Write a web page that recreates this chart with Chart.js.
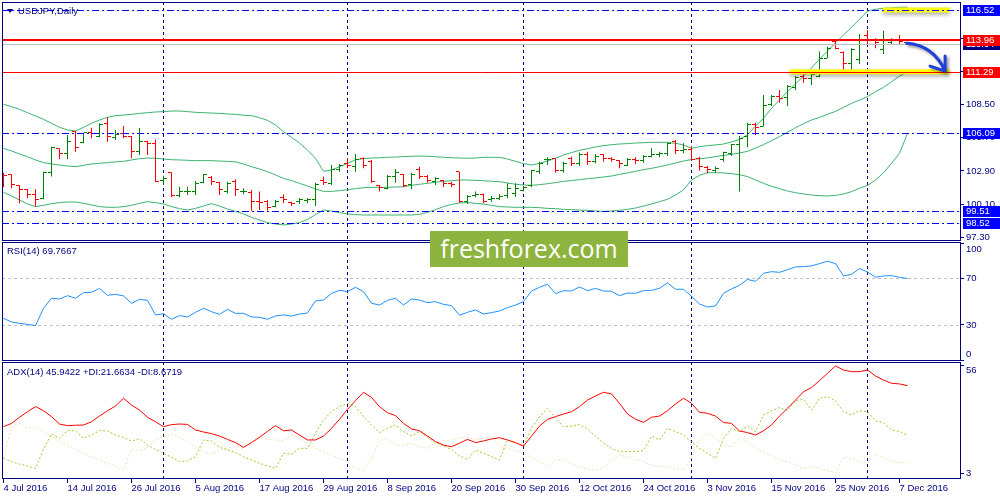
<!DOCTYPE html>
<html>
<head>
<meta charset="utf-8">
<script src="https://cdn.jsdelivr.net/npm/chart.js@4.4.1/dist/chart.umd.min.js"></script>
<style>
  body { margin: 0; background: #fff; }
  #wrap { position: relative; width: 1000px; height: 500px; overflow: hidden; background: #fff; }
  #wrap canvas { position: absolute; left: 0; top: 0; }
  .lbl { position: absolute; font: 9.5px "Liberation Sans", Arial, sans-serif; color: #000080; white-space: nowrap; line-height: 11px; }
  .tri { position: absolute; left: 7px; top: 9px; width: 0; height: 0;
         border-left: 3px solid transparent; border-right: 3px solid transparent; border-top: 4px solid #000080; }
  #wm { position: absolute; left: 430px; top: 231px; width: 198px; height: 36px; background: #8db43e;
        color: #fff; font: 25px "Open Sans", sans-serif; text-align: center; line-height: 35px; }
</style>
</head>
<body>
<div id="wrap">
  <canvas id="cMain" width="1000" height="500"></canvas>
  <canvas id="cRsi" width="1000" height="500"></canvas>
  <canvas id="cAdx" width="1000" height="500"></canvas>
  <span class="tri"></span>
  <div class="lbl" id="lMain" style="left:18px;top:5px"></div>
  <div class="lbl" id="lRsi" style="left:7px;top:245px"></div>
  <div class="lbl" id="lAdx" style="left:7px;top:366px"></div>
  <div id="wm">freshforex.com</div>
</div>
<script>
/* ── Data (USDJPY daily, 4 Jul – 8 Dec 2016) ───────── */

const symbol = 'USDJPY,Daily';

const dateIdx    = [0, 8, 16, 24, 32, 40, 48, 56, 64, 72, 80, 88, 96, 104, 112];
const dateLabels = ['4 Jul 2016', '14 Jul 2016', '26 Jul 2016', '5 Aug 2016', '17 Aug 2016', '29 Aug 2016',
                    '8 Sep 2016', '20 Sep 2016', '30 Sep 2016', '12 Oct 2016', '24 Oct 2016', '3 Nov 2016',
                    '15 Nov 2016', '25 Nov 2016', '7 Dec 2016'];
const monthStarts = [20, 43, 65, 86, 108];

const opens = [
  102.70, 102.56, 101.65, 101.34, 100.92, 100.58, 102.78, 104.76, 104.39, 106.22,
  105.29, 106.14, 105.80, 106.93, 105.74, 106.08, 105.80, 104.53, 105.38, 105.24,
  102.13, 102.75, 100.86, 101.15, 101.20, 101.91, 102.36, 101.91, 101.15, 101.99,
  101.15, 101.06, 100.30, 100.30, 99.88, 100.67, 100.21, 100.30, 100.38, 100.44,
  102.13, 101.85, 102.98, 103.54, 103.26, 103.97, 103.74, 101.65, 101.43, 102.42,
  102.64, 101.71, 103.06, 102.42, 101.99, 102.08, 101.85, 102.84, 100.30, 100.78,
  100.92, 100.44, 100.58, 100.78, 101.00, 101.23, 101.63, 102.84, 103.83, 103.97,
  102.92, 103.97, 103.54, 104.25, 103.68, 104.33, 103.97, 103.77, 103.40, 103.88,
  103.77, 104.16, 104.25, 104.39, 105.38, 104.62, 104.73, 103.97, 103.20, 102.92,
  103.88, 104.39, 105.10, 105.80, 106.79, 106.65, 108.48, 109.19, 109.10, 109.97,
  110.93, 110.74, 110.93, 112.43, 113.84, 112.91, 111.95, 112.35, 114.40, 114.04,
  113.19, 113.75, 114.04, 113.75
];
const highs = [
  102.75, 102.61, 101.71, 101.37, 101.34, 102.84, 104.95, 104.81, 105.94, 106.28,
  106.14, 106.56, 106.93, 107.44, 106.37, 106.70, 105.86, 106.53, 105.46, 105.57,
  102.50, 102.78, 101.57, 101.57, 102.05, 102.64, 102.47, 101.99, 101.99, 102.19,
  101.43, 101.29, 101.15, 100.44, 100.44, 100.92, 100.30, 100.58, 100.58, 101.90,
  102.42, 103.40, 103.49, 103.97, 104.33, 104.05, 103.83, 101.71, 102.56, 103.06,
  102.64, 102.75, 103.26, 102.56, 102.36, 102.13, 101.99, 102.84, 100.86, 101.15,
  101.00, 100.78, 100.92, 101.85, 101.85, 101.63, 102.98, 103.68, 104.05, 103.97,
  103.68, 104.11, 104.45, 104.53, 104.33, 104.33, 104.05, 103.83, 103.97, 104.05,
  104.25, 104.81, 104.53, 105.29, 105.52, 105.24, 105.01, 104.11, 103.33, 103.28,
  104.53, 105.18, 105.86, 106.98, 106.98, 109.33, 109.33, 109.75, 110.17, 110.93,
  111.22, 111.39, 113.00, 113.42, 114.04, 113.00, 113.28, 114.49, 114.83, 114.12,
  114.77, 114.12, 114.40, 113.84
];
const lows = [
  101.51, 101.43, 100.16, 100.58, 99.88, 100.50, 102.42, 103.88, 103.88, 104.53,
  105.24, 105.66, 105.74, 105.38, 105.52, 105.66, 103.97, 104.25, 104.25, 101.99,
  101.71, 100.67, 100.67, 100.86, 100.86, 101.85, 101.71, 100.86, 101.00, 100.78,
  100.92, 99.54, 99.59, 99.54, 99.82, 100.16, 99.93, 100.10, 100.16, 99.93,
  101.71, 101.71, 102.84, 103.12, 102.84, 103.12, 101.91, 101.15, 101.34, 101.91,
  101.51, 101.34, 102.22, 101.91, 101.71, 101.51, 101.51, 100.21, 100.10, 100.67,
  100.16, 100.30, 100.44, 100.58, 100.72, 101.15, 101.51, 102.64, 103.40, 102.75,
  102.75, 103.32, 103.32, 103.40, 103.54, 103.68, 103.68, 103.12, 103.32, 103.49,
  103.60, 104.05, 104.05, 104.16, 104.33, 104.39, 103.77, 102.92, 102.70, 102.75,
  103.68, 104.16, 101.15, 104.90, 105.94, 106.65, 108.40, 108.68, 108.40, 109.75,
  110.37, 110.17, 110.82, 112.43, 113.19, 111.30, 111.44, 111.95, 113.56, 113.28,
  112.80, 113.56, 113.56, 113.56
];
const closes = [
  102.50, 101.77, 101.29, 100.92, 100.50, 102.78, 104.90, 104.39, 105.38, 104.90,
  106.14, 106.08, 106.87, 105.80, 105.99, 105.80, 104.53, 105.38, 105.24, 101.99,
  102.30, 100.86, 101.15, 101.20, 101.85, 102.56, 101.99, 101.29, 101.85, 101.29,
  101.20, 100.30, 100.24, 99.82, 100.30, 100.44, 100.16, 100.44, 100.50, 101.71,
  101.94, 102.98, 103.40, 103.32, 103.88, 103.40, 101.99, 101.51, 102.47, 102.75,
  101.63, 102.64, 102.42, 102.08, 102.22, 101.85, 101.77, 100.30, 100.72, 100.92,
  100.30, 100.58, 100.72, 101.43, 101.43, 101.51, 102.92, 103.54, 103.88, 102.92,
  103.54, 103.54, 104.25, 103.68, 104.11, 103.97, 103.83, 103.49, 103.83, 103.77,
  104.16, 104.25, 104.39, 105.24, 104.67, 104.73, 103.88, 103.26, 103.00, 103.10,
  104.45, 105.10, 105.66, 106.87, 106.59, 108.40, 109.19, 109.04, 110.03, 110.82,
  110.74, 111.10, 112.43, 113.28, 113.28, 111.95, 113.19, 113.98, 114.04, 113.75,
  113.92, 114.04, 113.84, 113.64
];

const bbUpper = [
  108.54, 108.34, 108.11, 107.83, 107.55, 107.27, 106.93, 106.59, 106.37, 106.28,
  106.59, 106.93, 107.21, 107.44, 107.58, 107.63, 107.69, 107.77, 107.83, 107.89,
  107.92, 107.97, 107.97, 107.92, 107.86, 107.83, 107.80, 107.77, 107.72, 107.69,
  107.61, 107.58, 107.41, 107.18, 106.79, 106.22, 105.74, 105.26, 104.67, 103.97,
  102.87, 102.98, 103.26, 103.54, 103.85, 103.94, 103.99, 104.02, 104.05, 104.08,
  104.11, 104.14, 104.16, 104.14, 104.11, 104.05, 104.02, 103.99, 103.97, 103.99,
  104.05, 104.05, 104.05, 103.91, 103.71, 103.52, 103.40, 103.54, 103.74, 103.97,
  104.25, 104.45, 104.64, 104.78, 104.93, 105.04, 105.12, 105.18, 105.21, 105.26,
  105.29, 105.32, 105.32, 105.32, 105.24, 105.10, 104.81, 104.95, 105.04, 105.10,
  105.18, 105.35, 105.57, 105.97, 106.70, 107.35, 108.20, 108.90, 109.61, 110.26,
  110.93, 111.61, 112.35, 113.05, 113.75, 114.40, 115.05, 115.73, 116.43, 116.58,
  116.66, 116.69, 116.75, 116.75
];
const bbMiddle = [
  104.81, 104.59, 104.33, 104.11, 103.83, 103.60, 103.49, 103.40, 103.32, 103.26,
  103.37, 103.49, 103.54, 103.60, 103.66, 103.71, 103.83, 103.94, 103.99, 103.97,
  103.91, 103.85, 103.83, 103.80, 103.77, 103.77, 103.77, 103.74, 103.71, 103.66,
  103.49, 103.26, 103.06, 102.84, 102.56, 102.27, 102.08, 101.85, 101.63, 101.37,
  101.17, 101.17, 101.23, 101.32, 101.40, 101.48, 101.51, 101.51, 101.51, 101.54,
  101.57, 101.68, 101.77, 101.85, 101.94, 102.02, 102.08, 102.13, 102.13, 102.10,
  102.08, 102.02, 101.99, 101.88, 101.77, 101.71, 101.68, 101.74, 101.82, 101.91,
  102.02, 102.08, 102.16, 102.25, 102.30, 102.39, 102.47, 102.61, 102.73, 102.87,
  103.01, 103.12, 103.26, 103.40, 103.57, 103.74, 103.86, 103.93, 104.00, 104.11,
  104.22, 104.30, 104.42, 104.56, 104.84, 105.12, 105.46, 105.80, 106.17, 106.56,
  106.90, 107.21, 107.43, 107.69, 107.94, 108.28, 108.62, 108.90, 109.19, 109.61,
  109.97, 110.45, 110.93, 111.24
];
const bbLower = [
  101.09, 100.78, 100.44, 100.10, 99.88, 99.99, 100.13, 100.22, 100.27, 100.27,
  100.16, 100.02, 99.88, 99.82, 99.82, 99.88, 99.99, 100.16, 100.30, 100.22,
  100.10, 99.88, 99.71, 99.59, 99.73, 99.93, 100.13, 99.93, 99.68, 99.48,
  99.26, 98.97, 98.75, 98.52, 98.41, 98.33, 98.41, 98.52, 98.80, 99.20,
  99.59, 99.51, 99.37, 99.26, 99.20, 99.17, 99.17, 99.17, 99.17, 99.17,
  99.17, 99.17, 99.23, 99.40, 99.62, 99.88, 100.07, 100.19, 100.22, 100.16,
  100.10, 99.99, 99.88, 99.85, 99.82, 99.82, 99.82, 99.79, 99.73, 99.71,
  99.65, 99.62, 99.59, 99.57, 99.51, 99.48, 99.51, 99.57, 99.65, 99.76,
  99.93, 100.10, 100.30, 100.50, 100.86, 101.29, 102.13, 102.53, 102.75, 102.75,
  102.73, 102.67, 102.58, 102.42, 102.13, 101.85, 101.60, 101.40, 101.20, 101.06,
  100.95, 100.86, 100.81, 100.78, 100.83, 100.95, 101.15, 101.43, 101.68, 102.13,
  102.75, 103.54, 104.39, 106.08
];

const rsi = [
  35.7, 32.6, 31.4, 30.6, 29.4, 44.3, 52.9, 52.3, 55.1, 52.9,
  57.7, 58.0, 61.4, 55.4, 56.3, 54.9, 48.6, 52.0, 51.1, 38.6,
  39.7, 34.9, 38.0, 36.9, 40.9, 44.3, 41.4, 39.1, 43.4, 40.0,
  40.0, 36.9, 36.6, 34.9, 37.7, 38.6, 37.7, 39.4, 40.3, 50.6,
  51.4, 57.1, 59.7, 58.6, 62.3, 58.6, 48.6, 47.1, 51.1, 52.9,
  47.1, 52.3, 51.4, 49.1, 50.0, 47.7, 46.6, 38.3, 40.9, 42.9,
  39.4, 40.6, 42.0, 44.9, 47.1, 50.0, 59.1, 62.3, 64.9, 56.9,
  59.4, 59.1, 62.6, 59.4, 61.4, 59.1, 58.9, 55.1, 57.4, 57.1,
  59.4, 59.7, 61.4, 66.0, 60.6, 60.6, 54.6, 48.0, 45.4, 46.3,
  57.1, 60.9, 64.0, 69.1, 67.4, 74.3, 75.7, 75.1, 77.4, 79.7,
  80.0, 80.6, 82.6, 84.6, 82.6, 72.0, 73.4, 78.3, 75.4, 70.9,
  72.0, 72.3, 70.9, 69.7667
];

const adx = [
  25.9, 27.5, 30.5, 33.2, 35.7, 33.7, 30.8, 27.2, 26.4, 26.6,
  26.7, 28.3, 31.1, 33.7, 36.0, 39.8, 36.5, 34.0, 30.5, 28.3,
  25.9, 26.9, 27.2, 27.0, 24.3, 23.3, 22.5, 21.3, 19.7, 18.1,
  15.8, 18.1, 20.7, 23.6, 26.4, 23.9, 24.3, 21.8, 19.4, 19.4,
  21.3, 25.1, 29.5, 34.4, 38.6, 42.7, 40.2, 35.7, 32.7, 31.3,
  27.5, 24.8, 23.9, 21.3, 18.6, 16.9, 16.1, 17.8, 19.7, 18.1,
  18.9, 19.9, 20.5, 19.4, 18.1, 16.4, 21.3, 26.2, 29.5, 30.8,
  32.1, 33.2, 35.7, 38.9, 40.9, 42.7, 41.9, 37.3, 32.1, 29.5,
  28.0, 30.5, 31.1, 33.7, 37.0, 39.8, 37.3, 32.9, 32.4, 31.1,
  27.9, 27.5, 23.8, 23.0, 21.8, 23.9, 26.7, 31.1, 34.9, 38.9,
  43.0, 45.0, 48.4, 52.0, 55.6, 53.6, 52.8, 52.8, 53.6, 50.7,
  48.7, 47.1, 46.8, 45.9422
];
const plusDI = [
  10.4, 8.8, 7.6, 6.7, 5.5, 14.8, 22.3, 20.2, 24.0, 23.8,
  20.2, 21.8, 24.0, 23.8, 21.8, 20.7, 18.9, 20.0, 16.9, 14.8,
  12.9, 10.9, 8.8, 9.1, 11.2, 19.4, 18.9, 15.8, 14.5, 13.2,
  11.2, 9.6, 8.0, 6.7, 5.5, 12.9, 12.4, 15.3, 15.3, 22.6,
  29.2, 33.2, 35.7, 37.3, 35.7, 30.8, 26.7, 23.0, 25.1, 26.7,
  23.5, 21.3, 23.5, 20.7, 18.1, 16.4, 14.8, 11.6, 9.9, 14.5,
  12.9, 11.2, 9.6, 19.4, 18.1, 16.4, 25.1, 30.8, 34.9, 30.0,
  25.9, 26.2, 27.0, 24.8, 21.3, 17.8, 15.3, 13.7, 13.7, 13.7,
  14.2, 21.3, 19.4, 25.1, 23.5, 21.8, 18.6, 15.3, 12.9, 10.4,
  20.2, 25.1, 23.5, 26.2, 23.5, 31.6, 33.7, 35.2, 33.7, 38.6,
  39.3, 34.0, 39.8, 40.6, 38.6, 33.2, 31.6, 33.7, 33.2, 28.8,
  27.9, 24.3, 23.5, 21.6634
];
const minusDI = [
  10.4, 25.9, 27.5, 25.1, 25.9, 23.5, 21.3, 18.6, 16.4, 14.8,
  12.9, 11.2, 9.6, 8.0, 6.7, 4.7, 14.8, 14.2, 15.8, 19.4,
  21.3, 22.3, 20.7, 18.6, 15.8, 13.7, 12.5, 14.2, 15.3, 16.1,
  15.3, 18.6, 20.5, 19.7, 19.4, 18.9, 21.8, 20.7, 17.8, 15.3,
  13.7, 12.0, 10.4, 8.8, 5.5, 4.7, 10.4, 19.1, 20.2, 16.9,
  16.9, 17.8, 16.1, 15.3, 18.1, 19.1, 19.4, 20.2, 20.7, 19.4,
  20.2, 21.0, 16.4, 15.3, 14.2, 12.9, 10.9, 8.8, 6.3, 9.6,
  9.9, 7.6, 6.3, 5.0, 4.7, 5.5, 9.6, 12.0, 11.2, 9.9,
  8.8, 7.2, 6.3, 6.3, 5.5, 4.7, 10.4, 19.4, 22.6, 20.2,
  16.9, 15.8, 20.7, 18.1, 15.8, 13.2, 11.6, 9.9, 8.8, 7.2,
  5.5, 6.3, 5.5, 4.4, 3.4, 11.2, 10.4, 8.8, 8.0, 12.4,
  10.9, 9.1, 8.3, 8.6719
];

const priceTicks  = [97.30, 100.10, 102.90, 105.70, 108.50, 111.30, 114.10];
const rsiTicks    = [0, 30, 70, 100];
const rsiLevels   = [70, 30];
const adxTicks    = [3, 56];
const levelPrices = [116.52, 113.96, 111.29, 106.09, 99.51, 98.52];

const bars = opens.map((_, i) => i);

/* ── Look ──────────────────────────────────────────── */

const FONT   = '"Liberation Sans", Arial, sans-serif';
const NAVY   = '#000080';
const UP     = '#008000';
const DOWN   = '#ff0000';
const BAND   = '#3cb371';
const DASHDOT = [7, 3, 2, 3];

const X_MIN = -0.1875, X_MAX = 119.6875;   // 8 px per bar

Chart.defaults.font.family = FONT;
Chart.defaults.font.size   = 9.5;
Chart.defaults.animation   = false;

document.getElementById('lMain').textContent = symbol;
document.getElementById('lRsi').textContent  = 'RSI(14) ' + rsi[rsi.length - 1];
document.getElementById('lAdx').textContent  =
  `ADX(14) ${adx[adx.length - 1]} +DI:${plusDI[plusDI.length - 1]} -DI:${minusDI[minusDI.length - 1]}`;

// little open / close ticks of the OHLC bars
function tickImg(color, side) {
  const c = document.createElement('canvas');
  c.width = 7; c.height = 1;
  const g = c.getContext('2d');
  g.fillStyle = color;
  g.fillRect(side < 0 ? 0 : 4, 0, 3, 1);
  return c;
}
const openUp = tickImg(UP, -1), openDn = tickImg(DOWN, -1);
const closeUp = tickImg(UP, 1), closeDn = tickImg(DOWN, 1);
const isUp = i => closes[i] >= opens[i];

/* ── Scales ────────────────────────────────────────── */

// the panel layout is fixed by hand, so drop the label overhang padding
function noOverhang(s) {
  s.paddingTop = s.paddingBottom = s.paddingLeft = s.paddingRight = 0;
}

function xAxis(show) {
  return {
    type: 'linear', min: X_MIN, max: X_MAX, offset: false, bounds: 'data', display: show,
    afterBuildTicks: s => { s.ticks = dateIdx.map(v => ({ value: v })); },
    afterFit: s => { if (show) s.height = 21; noOverhang(s); },
    ticks: {
      autoSkip: false, maxRotation: 0, align: 'start', padding: 0, color: NAVY,
      callback: v => dateLabels[dateIdx.indexOf(v)],
    },
    grid:   { drawOnChartArea: false, tickLength: 4, color: NAVY },
    border: { display: false },
  };
}

function yAxis(min, max, vals, fmt) {
  return {
    position: 'right', min, max, bounds: 'data',
    afterBuildTicks: s => { s.ticks = vals.map(v => ({ value: v })); },
    afterFit: s => { s.width = 39; noOverhang(s); },
    ticks:  { autoSkip: false, color: NAVY, padding: 2, callback: fmt },
    grid:   { drawOnChartArea: false, tickLength: 3, color: NAVY },
    border: { display: false },
  };
}

/* ── Drawing helpers (plugins) ─────────────────────── */

function drawSeparators(chart) {
  const { ctx, chartArea: a, scales: { x } } = chart;
  ctx.save();
  ctx.strokeStyle = NAVY;
  ctx.lineWidth = 1;
  ctx.setLineDash([3, 3]);
  monthStarts.forEach(i => {
    const px = Math.round(x.getPixelForValue(i) - 0.5) + 0.5;
    ctx.beginPath(); ctx.moveTo(px, a.top); ctx.lineTo(px, a.bottom); ctx.stroke();
  });
  ctx.restore();
}

function drawFrame(chart) {
  const { ctx, chartArea: a } = chart;
  ctx.save();
  ctx.strokeStyle = NAVY;
  ctx.lineWidth = 1;
  ctx.strokeRect(a.left + 0.5, a.top + 0.5, a.right - a.left - 1, a.bottom - a.top - 1);
  ctx.restore();
}

function hline(ctx, a, py, color, width, dash) {
  ctx.save();
  ctx.strokeStyle = color;
  ctx.lineWidth = width;
  ctx.setLineDash(dash);
  ctx.beginPath(); ctx.moveTo(a.left, py); ctx.lineTo(a.right, py); ctx.stroke();
  ctx.restore();
}

function priceBox(ctx, a, py, bg, text) {
  ctx.save();
  ctx.fillStyle = bg;
  ctx.fillRect(a.right + 2, Math.round(py) - 5, 38, 11);
  ctx.fillStyle = '#fff';
  ctx.font = '9.5px ' + FONT;
  ctx.textBaseline = 'middle';
  ctx.fillText(text, a.right + 5, Math.round(py) + 0.5);
  ctx.restore();
}

const levelStyle = [
  { color: '#0000ff', width: 1, dash: DASHDOT },
  { color: '#ff0000', width: 2, dash: [] },
  { color: '#ff0000', width: 1, dash: [] },
  { color: '#0000ff', width: 1, dash: DASHDOT },
  { color: '#0000ff', width: 1, dash: DASHDOT },
  { color: '#0000ff', width: 1, dash: DASHDOT },
];

const mainPlugin = {
  id: 'mainPanel',
  beforeDatasetsDraw: chart => drawSeparators(chart),
  afterDatasetsDraw: chart => {
    const { ctx, chartArea: a, scales: { x, y } } = chart;

    // analyst highlights (yellow bands)
    [[116.52, 109.9, 118.3], [111.29, 98.3, 118.3]].forEach(([p, i0, i1]) => {
      const py = y.getPixelForValue(p);
      const x0 = x.getPixelForValue(i0), x1 = x.getPixelForValue(i1);
      ctx.save();
      ctx.shadowColor = 'rgba(0,0,0,0.35)';
      ctx.shadowBlur = 4;
      ctx.shadowOffsetY = 2;
      ctx.fillStyle = '#ffff00';
      ctx.fillRect(x0, py - 2.5, x1 - x0, 5);
      ctx.restore();
    });

    // bid line
    const bidY = Math.round(y.getPixelForValue(closes[closes.length - 1])) + 0.5;
    hline(ctx, a, bidY, '#c0c0c0', 1, []);

    // horizontal levels
    levelPrices.forEach((p, k) => {
      const s = levelStyle[k];
      const py = s.width === 2 ? Math.round(y.getPixelForValue(p))
                               : Math.round(y.getPixelForValue(p)) + 0.5;
      hline(ctx, a, py, s.color, s.width, s.dash);
    });

    // forecast arrow
    const p0 = [x.getPixelForValue(112.9), y.getPixelForValue(113.70)];
    const pc = [x.getPixelForValue(116.2), y.getPixelForValue(113.55)];
    const p2 = [x.getPixelForValue(117.7), y.getPixelForValue(111.35)];
    ctx.save();
    ctx.shadowColor = 'rgba(0,0,0,0.45)';
    ctx.shadowBlur = 3;
    ctx.shadowOffsetX = 2;
    ctx.shadowOffsetY = 2;
    ctx.strokeStyle = '#1f3fd8';
    ctx.lineWidth = 3;
    ctx.lineCap = 'round';
    ctx.lineJoin = 'round';
    ctx.beginPath();
    ctx.moveTo(p0[0], p0[1]);
    ctx.quadraticCurveTo(pc[0], pc[1], p2[0], p2[1]);
    ctx.moveTo(p2[0], p2[1] - 15);
    ctx.lineTo(p2[0], p2[1]);
    ctx.lineTo(p2[0] - 15, p2[1] - 5);
    ctx.stroke();
    ctx.restore();
  },
  afterDraw: chart => {
    const { ctx, chartArea: a, scales: { y } } = chart;
    drawFrame(chart);
    const bid = closes[closes.length - 1];
    priceBox(ctx, a, y.getPixelForValue(bid), NAVY, bid.toFixed(2));
    levelPrices.forEach((p, k) => {
      priceBox(ctx, a, y.getPixelForValue(p), levelStyle[k].color, p.toFixed(2));
    });
  },
};

const rsiPlugin = {
  id: 'rsiPanel',
  beforeDatasetsDraw: chart => {
    const { ctx, chartArea: a, scales: { y } } = chart;
    drawSeparators(chart);
    rsiLevels.forEach(v => hline(ctx, a, Math.round(y.getPixelForValue(v)) + 0.5, '#c0c0c0', 1, [3, 3]));
  },
  afterDraw: chart => drawFrame(chart),
};

const adxPlugin = {
  id: 'adxPanel',
  beforeDatasetsDraw: chart => drawSeparators(chart),
  afterDraw: chart => drawFrame(chart),
};

const common = {
  responsive: false,
  events: [],
  plugins: { legend: { display: false }, tooltip: { enabled: false } },
};

/* ── Price panel ───────────────────────────────────── */

new Chart(document.getElementById('cMain'), {
  type: 'line',
  plugins: [mainPlugin],
  data: {
    labels: bars,
    datasets: [
      { type: 'line', data: opens, showLine: false, pointRadius: 1,
        pointStyle: bars.map(i => isUp(i) ? openUp : openDn) },
      { type: 'line', data: closes, showLine: false, pointRadius: 1,
        pointStyle: bars.map(i => isUp(i) ? closeUp : closeDn) },
      { type: 'bar', data: bars.map(i => [lows[i], highs[i]]), barThickness: 1,
        inflateAmount: 0, borderWidth: 0,
        backgroundColor: bars.map(i => isUp(i) ? UP : DOWN) },
      { data: bbUpper,  borderColor: BAND, borderWidth: 1, pointRadius: 0, tension: 0 },
      { data: bbMiddle, borderColor: BAND, borderWidth: 1, pointRadius: 0, tension: 0 },
      { data: bbLower,  borderColor: BAND, borderWidth: 1, pointRadius: 0, tension: 0 },
    ],
  },
  options: {
    ...common,
    layout: { autoPadding: false, padding: { left: 2, top: 2, right: 0, bottom: 259 } },
    scales: {
      x: xAxis(false),
      y: yAxis(96.97, 117.197, priceTicks, v => v.toFixed(2)),
    },
  },
});

/* ── RSI panel ─────────────────────────────────────── */

new Chart(document.getElementById('cRsi'), {
  type: 'line',
  plugins: [rsiPlugin],
  data: {
    labels: bars,
    datasets: [
      { data: rsi, borderColor: '#1e90ff', borderWidth: 1, pointRadius: 0, tension: 0 },
    ],
  },
  options: {
    ...common,
    layout: { autoPadding: false, padding: { left: 2, top: 242, right: 0, bottom: 139 } },
    scales: {
      x: xAxis(false),
      y: yAxis(-0.84, 101.09, rsiTicks,
               v => v === 100 ? ['', '100'] : v === 0 ? ['0', ''] : String(v)),
    },
  },
});

/* ── ADX panel ─────────────────────────────────────── */

new Chart(document.getElementById('cAdx'), {
  type: 'line',
  plugins: [adxPlugin],
  data: {
    labels: bars,
    datasets: [
      { data: adx, borderColor: '#ff0000', borderWidth: 1, pointRadius: 0, tension: 0 },
      { data: plusDI, borderColor: '#9acd32', borderWidth: 1, borderDash: [2, 2], pointRadius: 0, tension: 0 },
      { data: minusDI, borderColor: '#f5deb3', borderWidth: 1, borderDash: [2, 2], pointRadius: 0, tension: 0 },
    ],
  },
  options: {
    ...common,
    layout: { autoPadding: false, padding: { left: 2, top: 362, right: 0, bottom: 0 } },
    scales: {
      x: xAxis(true),
      y: yAxis(0.31, 57.52, adxTicks, v => v === 56 ? ['', '56'] : String(v)),
    },
  },
});
</script>
</body>
</html>
